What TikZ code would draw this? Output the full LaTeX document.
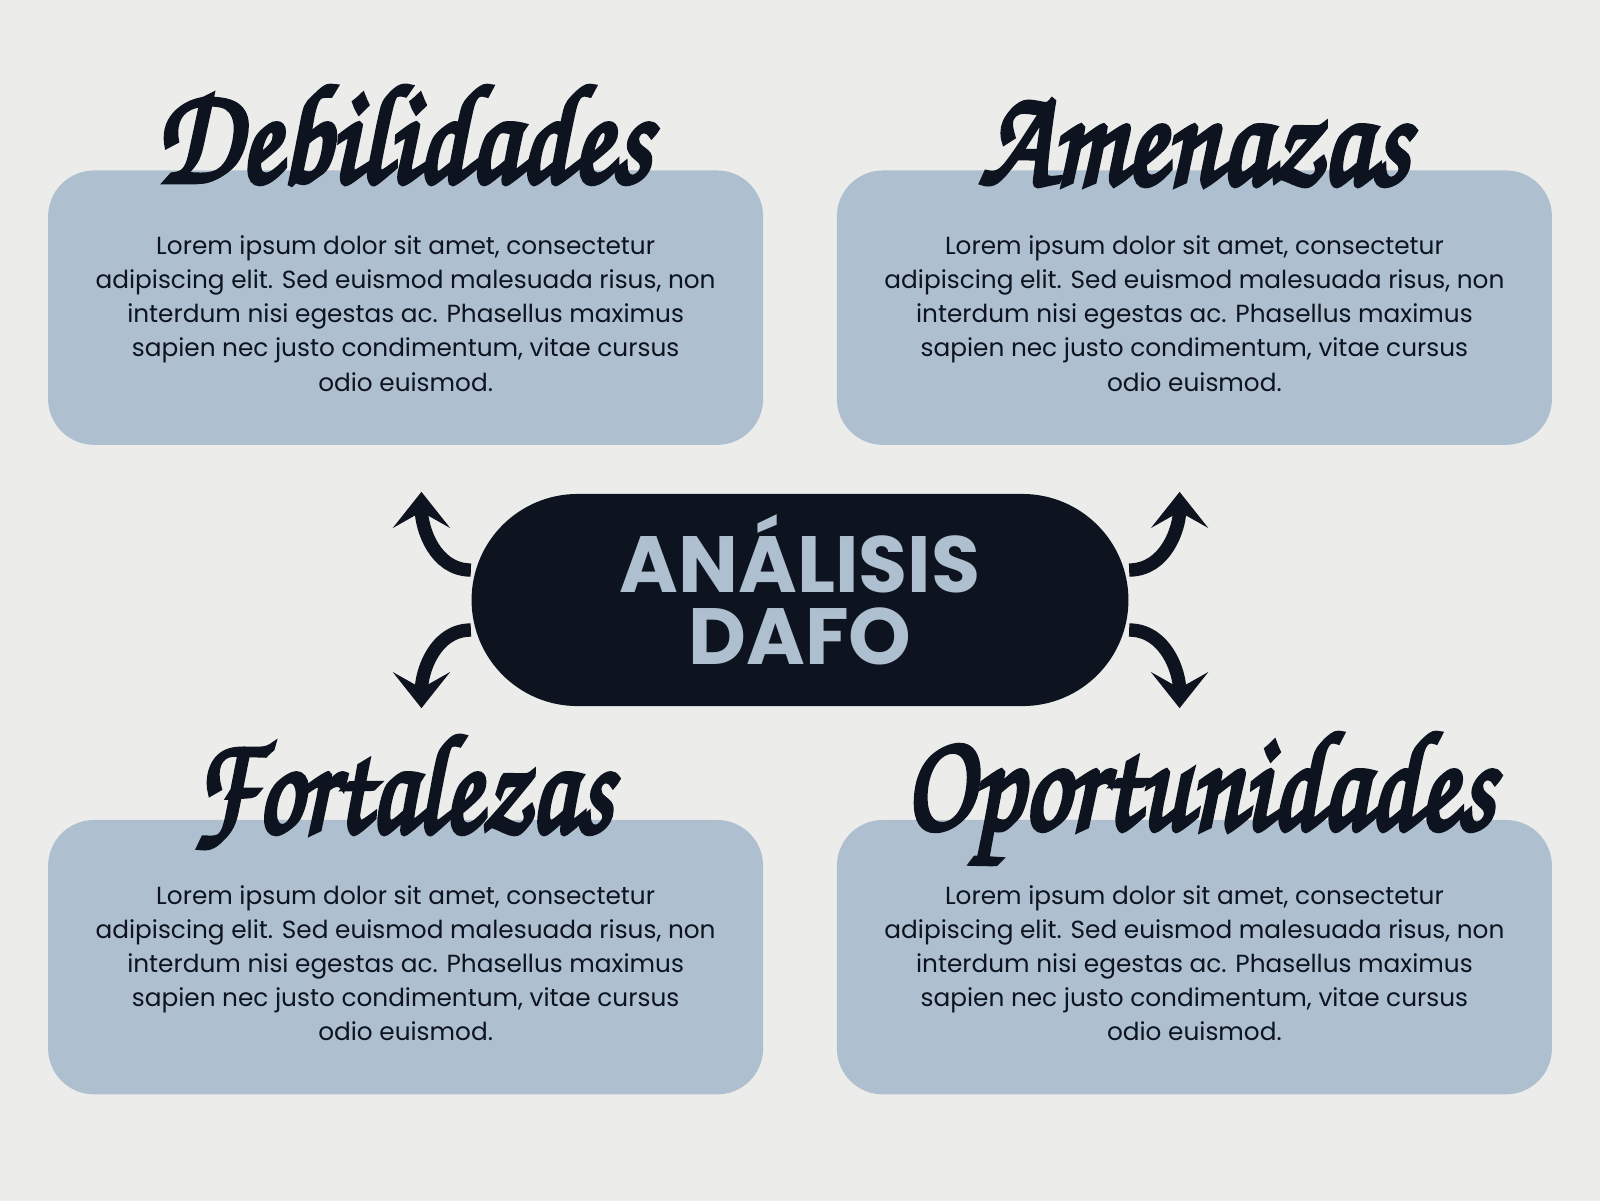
\documentclass[tikz,border=0pt]{standalone}
\usepackage[T1]{fontenc}
\usepackage{fontspec}
\usepackage{graphicx}
\setmainfont{Poppins}
\usetikzlibrary{arrows.meta,positioning}

\definecolor{paper}{HTML}{ECECEB}
\definecolor{boxblue}{HTML}{AEBFCF}
\definecolor{ink}{HTML}{0D1420}
\newcommand{\headfont}{\usefont{T1}{pzc}{mb}{it}}
% heavier script: fill and stroke the glyphs
\newcommand{\headtext}[2]{\special{pdf:literal 2 Tr 1.6 w}\scalebox{#1}[1]{#2}\special{pdf:literal 0 Tr 0.4 w}}
\newcommand{\lorem}{Lorem ipsum dolor sit amet, consectetur\\
adipiscing elit. Sed euismod malesuada risus, non\\
interdum nisi egestas ac. Phasellus maximus\\
sapien nec justo condimentum, vitae cursus\\
odio euismod.}

\begin{document}
\begin{tikzpicture}[x=0.01020408cm,y=-0.01020408cm,
    panel/.style={fill=boxblue,rounded corners=0.46cm,minimum width=7.153cm,minimum height=2.745cm},
    body/.style={align=center,text=ink,font=\fontsize{7.05}{9.68}\selectfont},
    head/.style={anchor=base,text=ink,font=\headfont\fontsize{40}{40}\selectfont},
    arr/.style={ink,line width=3.8pt,-{Stealth[length=0.36cm,width=0.57cm,inset=0.16cm]}}]

   % paper
   \useasboundingbox (0,0) rectangle (1568,1176);
   \fill[paper] (-10,-10) rectangle (1580,1190);

   % four panels
   \node[panel] (deb) at (397.5,301.5) {};
   \node[panel] (ame) at (1170.5,301.5) {};
   \node[panel] (fort) at (397.5,938) {};
   \node[panel] (opo) at (1170.5,938) {};

   \node[body] (debtxt) at ([yshift=-0.06cm]deb.center) {\lorem};
   \node[body] (ametxt) at ([yshift=-0.06cm]ame.center) {\lorem};
   \node[body] (forttxt) at ([yshift=-0.06cm]fort.center) {\lorem};
   \node[body] (opotxt) at ([yshift=-0.06cm]opo.center) {\lorem};

   % headings
   \node[head] (debh) at (395,178) {\headtext{0.85}{Debilidades}};
   \node[head] (ameh) at (1170,180) {\headtext{0.84}{Amenazas}};
   \node[head] (forth) at (394,815) {\headtext{0.79}{Fortalezas}};
   \node[head] (opoh) at (1175,812) {\headtext{0.81}{Oportunidades}};

   % centre
   \node[fill=ink,rounded corners=1.061cm,minimum width=6.571cm,minimum height=2.122cm] (dafo) at (784,588) {};
   \node[align=center,text=boxblue,font=\bfseries\fontsize{22.7}{20.6}\selectfont] (dafotxt)
         at ([yshift=0.1cm]dafo.center) {ANÁLISIS\\DAFO};

   \coordinate (tl) at (413,482);
   \coordinate (bl) at (413,694);
   \coordinate (tr) at (1156,482);
   \coordinate (br) at (1156,694);

   \draw[arr] ([yshift=0.3cm]dafo.west) to[out=180,in=-90] (tl);
   \draw[arr] ([yshift=-0.3cm]dafo.west) to[out=180,in=90] (bl);
   \draw[arr] ([yshift=0.3cm]dafo.east) to[out=0,in=-90] (tr);
   \draw[arr] ([yshift=-0.3cm]dafo.east) to[out=0,in=90] (br);
\end{tikzpicture}
\end{document}
